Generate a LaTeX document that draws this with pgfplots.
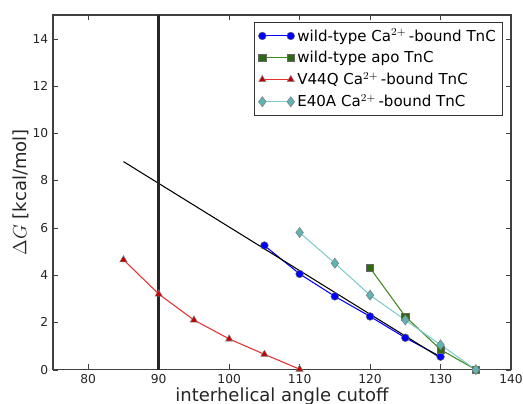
\documentclass[border=0pt]{standalone}
\usepackage{fontspec}
\setmainfont{DejaVu Sans}
\usepackage{pgfplots}
\pgfplotsset{compat=1.18}
\usetikzlibrary{calc}
\definecolor{wtblue}{HTML}{0000FF}
\definecolor{apogreen}{HTML}{2E6B10}
\definecolor{apoline}{HTML}{3F8A1A}
\definecolor{vred}{HTML}{C00000}
\definecolor{vline}{HTML}{E83030}
\definecolor{efill}{HTML}{5FB3B3}
\definecolor{eline}{HTML}{80CCCC}

\begin{document}
\begin{tikzpicture}
\begin{axis}[
  name=ax,
  width=343.5pt, height=266pt,
  scale only axis,
  xmin=75, xmax=140, ymin=0, ymax=15,
  xtick={80,90,...,140},
  ytick={0,2,...,14},
  tick pos=both,
  tick align=inside,
  major tick length=4pt,
  axis line style={line width=0.8pt, black!75},
  tick style={black!75},
  tick label style={font=\fontsize{9.2}{10}\selectfont, text=black!85},
  /pgf/number format/assume math mode=true,
  xlabel={interhelical angle cutoff},
  ylabel={$\Delta G$ [kcal/mol]},
  label style={font=\fontsize{13.5}{15}\selectfont, text=black!85},
  xlabel style={yshift=4pt},
  ylabel style={yshift=-4pt},
  legend style={at={(1,1)}, anchor=north east, xshift=-6pt, yshift=-5pt,
    font=\fontsize{11.3}{13}\selectfont, draw=black!80, line width=0.8pt,
    row sep=2pt, inner sep=3pt},
  legend cell align=left,
  legend image code/.code={
    \draw plot coordinates {(0cm,0cm) (0.75cm,0cm)};
  },
]
\addplot[wtblue, line width=0.8pt, mark=*, mark size=2.9pt,
  mark options={fill=wtblue, draw=black!60, line width=0.4pt}]
  coordinates {(105,5.25) (110,4.05) (115,3.1) (120,2.25) (125,1.35) (130,0.55)};
\addlegendentry{wild-type Ca$^{2+}$\,-bound TnC}
\addplot[apoline, line width=0.8pt, mark=square*, mark size=2.7pt,
  mark options={fill=apogreen, draw=black!60, line width=0.4pt}]
  coordinates {(120,4.3) (125,2.25) (130,0.85) (135,0.0)};
\addlegendentry{wild-type apo TnC}
\addplot[vline, line width=0.8pt, mark=triangle*, mark size=3.1pt,
  mark options={fill=vred, draw=black!50, line width=0.4pt}]
  coordinates {(85,4.65) (90,3.2) (95,2.1) (100,1.3) (105,0.65) (110,0.02)};
\addlegendentry{V44Q Ca$^{2+}$\,-bound TnC}
\addplot[eline, line width=0.8pt, mark=diamond*, mark size=3.8pt,
  mark options={fill=efill, draw=black!50, line width=0.4pt}]
  coordinates {(110,5.8) (115,4.5) (120,3.15) (125,2.1) (130,1.05) (135,0.0)};
\addlegendentry{E40A Ca$^{2+}$\,-bound TnC}
\addplot[black, line width=0.8pt, forget plot] coordinates {(85,8.8) (130,0.5)};
\addplot[black!85, line width=1.8pt, forget plot] coordinates {(90,0) (90,15)};
\end{axis}
\pgfresetboundingbox
\path ($(ax.south west)+(-39.75pt,-25.5pt)$) rectangle ($(ax.north east)+(9pt,11.25pt)$);
\end{tikzpicture}
\end{document}
